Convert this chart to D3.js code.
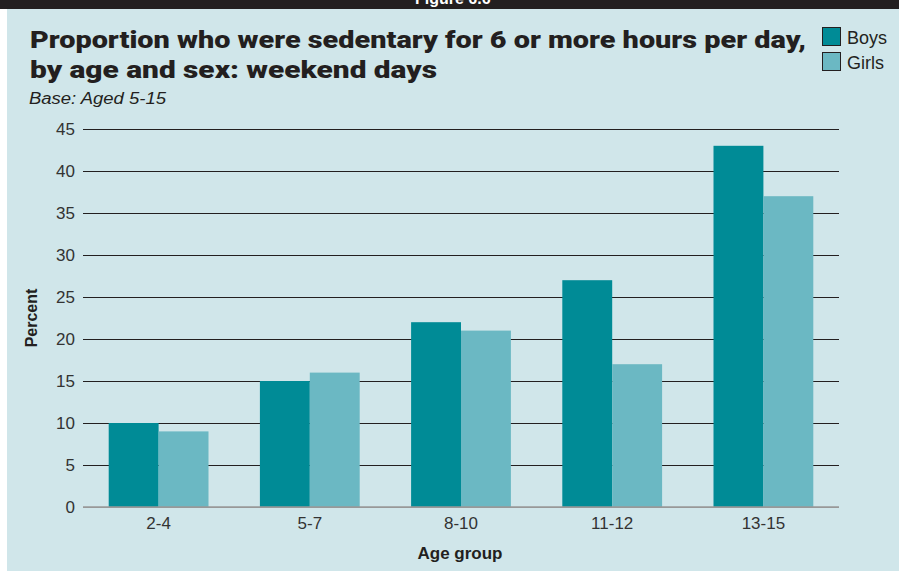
<!DOCTYPE html>
<html>
<head>
<meta charset="utf-8">
<script src="https://cdn.jsdelivr.net/npm/d3@7"></script>
<style>
  html, body { margin: 0; padding: 0; background: #ffffff; }
  svg { display: block; font-family: "Liberation Sans", Arial, sans-serif; }
</style>
</head>
<body>
<svg id="chart" width="899" height="571"></svg>
<script>
// Data
const ageGroups = ["2-4", "5-7", "8-10", "11-12", "13-15"];
const boys = [10, 15, 22, 27, 43];
const girls = [9, 16, 21, 17, 37];
const seriesNames = ["Boys", "Girls"];
const yTicks = [0, 5, 10, 15, 20, 25, 30, 35, 40, 45];

const colors = { Boys: "#008b96", Girls: "#6bb8c3" };

const svg = d3.select("#chart");
const W = 899, H = 571;

// Panel background and header strip
svg.append("rect").attr("x", 7).attr("y", 0).attr("width", W - 7).attr("height", H).attr("fill", "#d0e6ea");
svg.append("rect").attr("x", 0).attr("y", 0).attr("width", W).attr("height", 9).attr("fill", "#231f20");
svg.append("text").attr("x", 415).attr("y", 4).attr("fill", "#ffffff")
  .attr("font-size", 16).attr("font-weight", "bold").text("Figure 6.6");

// Title
const title = svg.append("g").attr("font-family", "Roboto, 'Liberation Sans', sans-serif")
  .attr("font-weight", 900).attr("fill", "#231f20").attr("font-size", 24);
title.append("text").attr("x", 30).attr("y", 48)
  .attr("textLength", 776).attr("lengthAdjust", "spacingAndGlyphs")
  .text("Proportion who were sedentary for 6 or more hours per day,");
title.append("text").attr("x", 30).attr("y", 78)
  .attr("textLength", 407).attr("lengthAdjust", "spacingAndGlyphs")
  .text("by age and sex: weekend days");
svg.append("text").attr("x", 29).attr("y", 104).attr("font-size", 16)
  .attr("font-style", "italic").attr("fill", "#231f20")
  .attr("textLength", 137).attr("lengthAdjust", "spacingAndGlyphs").text("Base: Aged 5-15");

// Legend
const legend = svg.append("g");
seriesNames.forEach((name, i) => {
  const y = 27 + i * 25;
  legend.append("rect").attr("x", 822.5).attr("y", y + 0.5).attr("width", 18).attr("height", 18)
    .attr("fill", colors[name]).attr("stroke", "#231f20").attr("stroke-width", 1);
  legend.append("text").attr("x", 847).attr("y", y + 17).attr("font-size", 18)
    .attr("fill", "#231f20").text(name);
});

// Scales
const x0 = d3.scaleBand().domain(ageGroups).range([83, 839]).paddingInner(0.34).paddingOuter(0.17);
const x1 = d3.scaleBand().domain(seriesNames).range([0, x0.bandwidth()]);
const y = d3.scaleLinear().domain([0, 45]).range([507, 129]);

// Grid lines (y axis ticks extended across the plot)
const yAxis = d3.axisLeft(y).tickValues(yTicks).tickSize(-(839 - 83)).tickPadding(8).tickFormat(d3.format("d"));
const gy = svg.append("g").attr("transform", "translate(83,0)").call(yAxis);
gy.select(".domain").remove();
gy.selectAll(".tick line").attr("stroke-width", 1.2)
  .attr("stroke", d => d === 0 ? "#999999" : "#231f20");
gy.selectAll(".tick text").attr("font-size", 17).attr("fill", "#333333")
  .attr("font-family", "Liberation Sans, Arial, sans-serif");

// Bars
const rows = ageGroups.map((g, i) => ({ group: g, values: [
  { key: "Boys", value: boys[i] }, { key: "Girls", value: girls[i] }] }));

svg.append("g").selectAll("g").data(rows).join("g")
  .attr("transform", d => `translate(${x0(d.group)},0)`)
  .selectAll("rect").data(d => d.values).join("rect")
  .attr("x", d => x1(d.key))
  .attr("width", x1.bandwidth())
  .attr("y", d => y(d.value))
  .attr("height", d => y(0) - y(d.value))
  .attr("fill", d => colors[d.key]);

// Baseline
svg.append("line").attr("x1", 83).attr("x2", 839).attr("y1", y(0)).attr("y2", y(0))
  .attr("stroke", "#999999").attr("stroke-width", 1.5);

// X axis labels
const xAxis = d3.axisBottom(x0).tickSize(0).tickPadding(10);
const gx = svg.append("g").attr("transform", `translate(0,${y(0)})`).call(xAxis);
gx.select(".domain").remove();
gx.selectAll(".tick text").attr("font-size", 17).attr("fill", "#333333")
  .attr("font-family", "Liberation Sans, Arial, sans-serif");

// Axis titles
svg.append("text").attr("x", 460).attr("y", 559).attr("text-anchor", "middle")
  .attr("font-size", 17).attr("font-weight", "bold").attr("fill", "#231f20").text("Age group");
svg.append("text").attr("transform", "translate(37,318) rotate(-90)").attr("text-anchor", "middle")
  .attr("font-size", 16).attr("font-weight", "bold").attr("fill", "#231f20").text("Percent");
</script>
</body>
</html>
